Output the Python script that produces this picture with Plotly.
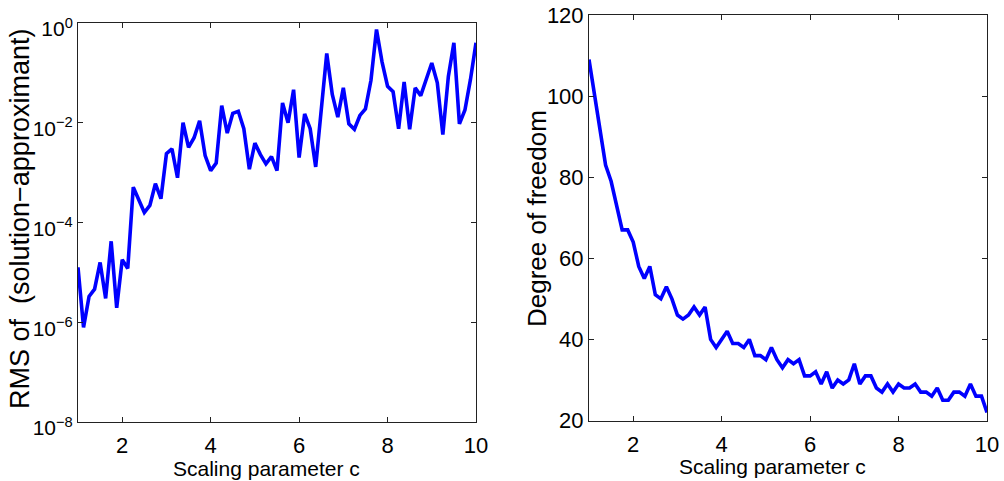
import plotly.graph_objects as go

# Scaling parameter c (shared x values)
c_values = [1.0, 1.125, 1.25, 1.375, 1.5, 1.625, 1.75, 1.875,
            2.0, 2.125, 2.25, 2.375, 2.5, 2.625, 2.75, 2.875,
            3.0, 3.125, 3.25, 3.375, 3.5, 3.625, 3.75, 3.875,
            4.0, 4.125, 4.25, 4.375, 4.5, 4.625, 4.75, 4.875,
            5.0, 5.125, 5.25, 5.375, 5.5, 5.625, 5.75, 5.875,
            6.0, 6.125, 6.25, 6.375, 6.5, 6.625, 6.75, 6.875,
            7.0, 7.125, 7.25, 7.375, 7.5, 7.625, 7.75, 7.875,
            8.0, 8.125, 8.25, 8.375, 8.5, 8.625, 8.75, 8.875,
            9.0, 9.125, 9.25, 9.375, 9.5, 9.625, 9.75, 9.875,
            10.0]

# RMS of (solution - approximant)
rms_error = [1.26e-5, 7.9e-7, 3.3e-6, 4.6e-6, 1.58e-5, 3.0e-6, 4.2e-5, 1.95e-6,
             1.8e-5, 1.2e-5, 5.1e-4, 2.75e-4, 1.58e-4, 2.2e-4, 6.0e-4, 3.0e-4,
             2.4e-3, 3.0e-3, 7.9e-4, 1.0e-2, 3.2e-3, 5.0e-3, 1.1e-2, 2.2e-3,
             1.1e-3, 1.55e-3, 2.2e-2, 6.2e-3, 1.55e-2, 1.7e-2, 7.6e-3, 1.17e-3,
             3.9e-3, 2.3e-3, 1.5e-3, 2.1e-3, 1.1e-3, 2.5e-2, 1.0e-2, 4.6e-2,
             2.0e-3, 1.5e-2, 7.6e-3, 1.3e-3, 1.8e-2, 0.245, 3.7e-2, 1.3e-2,
             5.0e-2, 9.5e-3, 7.4e-3, 1.4e-2, 1.9e-2, 7.1e-2, 0.74, 0.166,
             5.4e-2, 4.2e-2, 7.6e-3, 6.6e-2, 7.4e-3, 5.0e-2, 3.5e-2, 7.4e-2,
             0.158, 6.3e-2, 5.8e-3, 8.5e-2, 0.40, 9.5e-3, 1.8e-2, 7.4e-2,
             0.40]

# Degree of freedom
dof = [109, 100, 91, 83, 79, 73, 67, 67,
       64, 58, 55, 58, 51, 50, 53, 50,
       46, 45, 46, 48, 46, 48, 40, 38,
       40, 42, 39, 39, 38, 40, 36, 36,
       35, 38, 35, 33, 35, 34, 35, 31,
       31, 32, 29, 32, 28, 30, 29, 30,
       34, 29, 31, 31, 28, 27, 29, 27,
       29, 28, 28, 29, 27, 27, 26, 28,
       25, 25, 27, 27, 26, 29, 26, 26,
       22]

x_ticks = [2, 4, 6, 8, 10]
left_y_ticks = [1e-8, 1e-6, 1e-4, 1e-2, 1]
left_y_ticktext = ["10<sup>−8</sup>", "10<sup>−6</sup>", "10<sup>−4</sup>",
                   "10<sup>−2</sup>", "10<sup>0</sup>"]
right_y_ticks = [20, 40, 60, 80, 100, 120]

W, H = 1004, 481
FONT = "Liberation Sans, Arial, sans-serif"
BLUE = "#0000ff"

fig = go.Figure()
fig.add_trace(go.Scatter(x=c_values, y=rms_error, mode="lines",
                         line=dict(color=BLUE, width=3.6),
                         xaxis="x", yaxis="y", showlegend=False))
fig.add_trace(go.Scatter(x=c_values, y=dof, mode="lines",
                         line=dict(color=BLUE, width=3.6),
                         xaxis="x2", yaxis="y2", showlegend=False))

axis_common = dict(showline=True, linecolor="#222222", linewidth=1,
                   mirror="ticks", ticks="inside", ticklen=5,
                   tickcolor="#222222", tickwidth=1,
                   showgrid=False, zeroline=False)
tick_font = dict(family=FONT, size=22, color="black")

def px_x(a, b):
    return [a / W, b / W]

def px_y(top, bottom):
    return [1 - bottom / H, 1 - top / H]

fig.update_layout(
    width=W, height=H,
    margin=dict(l=0, r=0, t=0, b=0, autoexpand=False),
    paper_bgcolor="white", plot_bgcolor="white",
    xaxis=dict(domain=px_x(78, 476), range=[1, 10], tickvals=x_ticks,
               anchor="y", ticklabelstandoff=4, tickfont=tick_font,
               **axis_common),
    yaxis=dict(domain=px_y(23, 422), type="log", range=[-8, 0],
               tickvals=left_y_ticks, ticktext=left_y_ticktext,
               anchor="x", ticklabelshift=6, ticklabelstandoff=0,
               tickfont=dict(family=FONT, size=21, color="black"),
               **axis_common),
    xaxis2=dict(domain=px_x(589, 987), range=[1, 10], tickvals=x_ticks,
                anchor="y2", ticklabelstandoff=4, tickfont=tick_font,
                **axis_common),
    yaxis2=dict(domain=px_y(15, 420.5), range=[20, 120],
                tickvals=right_y_ticks, anchor="x2", ticklabelstandoff=0,
                tickfont=tick_font, **axis_common),
)

title_font = dict(family=FONT, size=21, color="black")
fig.add_annotation(text="Scaling parameter c", xref="paper", yref="paper",
                   x=266 / W, y=1 - 455 / H, xanchor="center", yanchor="top",
                   showarrow=False, font=title_font)
fig.add_annotation(text="Scaling parameter c", xref="paper", yref="paper",
                   x=772 / W, y=1 - 453 / H, xanchor="center", yanchor="top",
                   showarrow=False, font=title_font)
fig.add_annotation(text="RMS of  (solution−approximant)", xref="paper", yref="paper",
                   x=20 / W, y=1 - 219 / H, xanchor="center", yanchor="middle",
                   textangle=-90, showarrow=False,
                   font=dict(family=FONT, size=27, color="black"))
fig.add_annotation(text="Degree of freedom", xref="paper", yref="paper",
                   x=537 / W, y=1 - 219 / H, xanchor="center", yanchor="middle",
                   textangle=-90, showarrow=False,
                   font=dict(family=FONT, size=26, color="black"))

fig.write_html("out.html")
